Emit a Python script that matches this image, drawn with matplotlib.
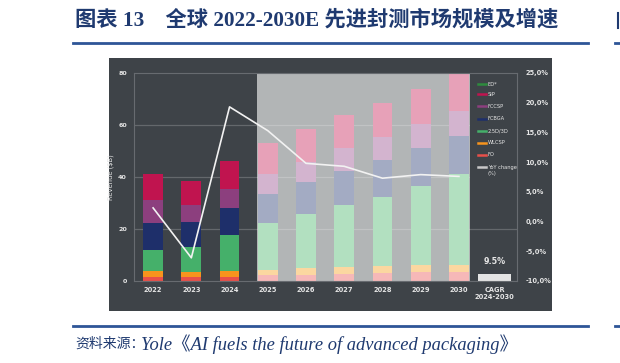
import matplotlib
matplotlib.use("Agg")
import matplotlib.pyplot as plt
from matplotlib.patches import Rectangle
from matplotlib.lines import Line2D
import numpy as np

# ---------------- data ----------------
years = ["2022", "2023", "2024", "2025", "2026", "2027", "2028", "2029", "2030"]
series_names = ["ED*", "SiP", "FCCSP", "FCBGA", "2.5D/3D", "WLCSP", "FO"]
fo     = [1.4, 1.4, 1.7, 2.3, 2.4, 2.8, 3.1, 3.5, 3.5]
wlcsp  = [2.3, 2.2, 2.3, 2.1, 2.5, 2.6, 2.7, 2.8, 2.8]
d25    = [8.1, 9.4, 13.6, 17.8, 20.8, 23.7, 26.7, 30.4, 34.8]
fcbga  = [10.7, 9.6, 10.6, 11.4, 12.2, 13.3, 14.1, 14.6, 14.6]
fccsp  = [8.7, 6.5, 7.1, 7.7, 7.8, 8.6, 8.6, 9.0, 9.5]
sip    = [9.9, 9.5, 10.7, 11.7, 12.7, 12.7, 13.2, 13.5, 14.3]
ed     = [0, 0, 0, 0, 0, 0, 0, 0, 0]
yoy    = [2.3, -6.1, 19.3, 15.3, 9.8, 9.3, 7.3, 7.9, 7.6]
cagr_label = "9.5%"
cagr_bar = 2.7
left_ticks = [0, 20, 40, 60, 80]
right_ticks = [-10, -5, 0, 5, 10, 15, 20, 25]

# ---------------- styles ----------------
BG = "#3e4348"
GRAY = "#b2b5b6"
TXT = "#e6e6e6"
stack_order = [("FO", fo), ("WLCSP", wlcsp), ("2.5D/3D", d25), ("FCBGA", fcbga),
               ("FCCSP", fccsp), ("SiP", sip), ("ED*", ed)]
col_actual = {"ED*": "#2e8b3e", "SiP": "#c0144f", "FCCSP": "#8c3f7e", "FCBGA": "#1e2f6a",
              "2.5D/3D": "#45b06a", "WLCSP": "#f7941d", "FO": "#e8504a"}
col_fcst = {"ED*": "#8fd0a0", "SiP": "#e7a1b8", "FCCSP": "#d3b4cf", "FCBGA": "#a3abc3",
            "2.5D/3D": "#b2e0c0", "WLCSP": "#fbd7a0", "FO": "#f6b8b8"}
n_actual = 3

fig = plt.figure(figsize=(6.2, 3.63), dpi=100)
fig.patch.set_facecolor("white")

W, H = 620, 363
def fx(px): return px / W
def fy(py): return 1 - py / H

# dark chart background
fig.patches.append(Rectangle((fx(109), fy(311)), fx(552) - fx(109), fy(58) - fy(311),
                             transform=fig.transFigure, facecolor=BG, edgecolor="none", zorder=0))

ax = fig.add_axes([fx(134), fy(281), fx(517) - fx(134), fy(73) - fy(281)])
ax.set_facecolor(BG)
ax.set_zorder(2)
x = np.arange(len(years))
ax.set_xlim(-0.5, 9.52)
ax.set_ylim(0, 80)

# forecast gray region
ax.axvspan(2.72, 8.29, color=GRAY, zorder=0.5, lw=0)
# gridlines
for t in left_ticks[1:-1]:
    ax.axhline(t, color="white", alpha=0.2, lw=0.9, zorder=0.8)
# legend column background
ax.add_patch(Rectangle((8.29, 21.5), 9.52 - 8.29, 58.5, facecolor=BG, edgecolor="none", zorder=0.9))

bw = 0.52
for i in range(len(years)):
    bottom = 0
    for name, vals in stack_order:
        c = col_actual[name] if i < n_actual else col_fcst[name]
        ax.bar(x[i], vals[i], bw, bottom=bottom, color=c, lw=0, zorder=2)
        bottom += vals[i]

# CAGR column
ax.bar(8.93, cagr_bar, 0.86, color="#e4e4e4", lw=0, zorder=2)
ax.text(8.93, cagr_bar + 3.2, cagr_label, color=TXT, fontsize=5.8, fontweight="bold",
        ha="center", va="bottom", zorder=3)

ax.set_xticks(list(x) + [8.93])
ax.set_xticklabels(years + ["CAGR\n2024-2030"], color=TXT, fontsize=4.8, fontweight="bold",
                   linespacing=1.3)
ax.set_yticks(left_ticks)
ax.set_yticklabels([str(t) for t in left_ticks], color=TXT, fontsize=4.6, fontweight="bold")
ax.tick_params(axis="both", length=0)
ax.tick_params(axis="x", pad=4)
ax.tick_params(axis="y", pad=5)
ax.set_ylabel("Revenue ($B)", color=TXT, fontsize=4.9, labelpad=3)
for s in ax.spines.values():
    s.set_color("#676b70")
    s.set_linewidth(0.8)

ax2 = ax.twinx()
ax2.set_ylim(-10, 25)
ax2.set_yticks(right_ticks)
ax2.set_yticklabels([f"{t:.1f}%".replace(".", ",") for t in right_ticks], color=TXT,
                    fontsize=4.8, fontweight="bold")
ax2.tick_params(axis="y", length=0, pad=6)
for s in ax2.spines.values():
    s.set_visible(False)
ax2.plot(x, yoy, color="#f2f2f2", lw=1.2, zorder=5)
ax2.set_zorder(3)
ax2.patch.set_visible(False)

# manual legend
leg_items = [(n, col_actual[n]) for n in series_names] + [("YoY change", "#c8c8c8")]
ys = [84, 94, 106, 119, 131, 143, 155, 167]
for (name, c), yy in zip(leg_items, ys):
    fig.add_artist(Line2D([fx(478), fx(486)], [fy(yy), fy(yy)], color=c, lw=1.8,
                          transform=fig.transFigure, zorder=10))
    fig.text(fx(488), fy(yy), name, color=TXT, fontsize=3.7, va="center", ha="left", zorder=10)
fig.text(fx(488), fy(174), "(%)", color=TXT, fontsize=3.7, va="center", ha="left", zorder=10)

# title
NAVY = "#1f3a70"
fig.text(fx(75), fy(20), "图表 13　全球 2022-2030E 先进封测市场规模及增速", color=NAVY,
         fontsize=15.3, fontweight="bold", va="center", ha="left",
         family=["Liberation Serif", "Noto Sans CJK SC"])
# source
fig.text(fx(75), fy(344), "资料来源：", color=NAVY, fontsize=10, va="center", ha="left",
         family=["Noto Sans CJK SC"])
fig.text(fx(141), fy(344), "Yole《AI fuels the future of advanced packaging》",
         color=NAVY, fontsize=13.3, style="italic", va="center", ha="left",
         family=["Liberation Serif", "Noto Sans CJK SC"])

# rules
for yy in (43, 326):
    fig.add_artist(Line2D([fx(73), fx(588)], [fy(yy), fy(yy)], color="#2e5597", lw=2,
                          transform=fig.transFigure))
    fig.add_artist(Line2D([fx(615), fx(620)], [fy(yy), fy(yy)], color="#2e5597", lw=2,
                          transform=fig.transFigure))
fig.add_artist(Line2D([fx(618), fx(618)], [fy(13), fy(28)], color=NAVY, lw=1.5,
                      transform=fig.transFigure))

fig.savefig("out.png", dpi=100, facecolor="white")
